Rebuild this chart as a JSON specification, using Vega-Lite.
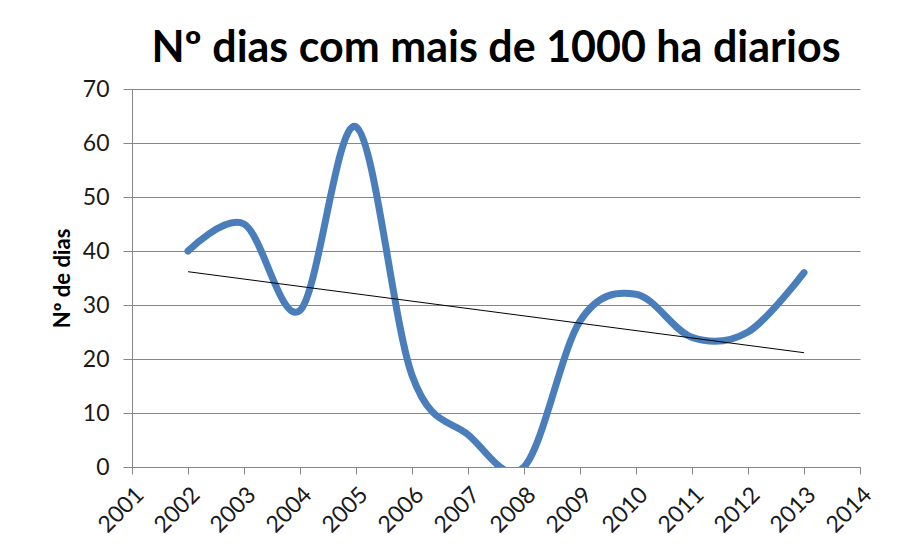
{
  "$schema": "https://vega.github.io/schema/vega-lite/v6.json",
  "width": 728,
  "height": 378,
  "autosize": "none",
  "padding": {"left": 132, "top": 89, "right": 64, "bottom": 84},
  "background": "white",
  "title": {
    "text": "Nº dias com mais de 1000 ha diarios",
    "font": "Lato",
    "fontSize": 43,
    "fontWeight": "bold",
    "color": "#000000",
    "anchor": "middle",
    "offset": 7
  },
  "data": {
    "values": [
      {"year": 2002, "days": 40},
      {"year": 2003, "days": 45},
      {"year": 2004, "days": 29},
      {"year": 2005, "days": 63},
      {"year": 2006, "days": 17},
      {"year": 2007, "days": 6},
      {"year": 2008, "days": 0},
      {"year": 2009, "days": 27},
      {"year": 2010, "days": 32},
      {"year": 2011, "days": 24},
      {"year": 2012, "days": 25},
      {"year": 2013, "days": 36}
    ]
  },
  "encoding": {
    "x": {
      "field": "year",
      "type": "quantitative",
      "scale": {"domain": [2001, 2014], "nice": false, "zero": false},
      "axis": {
        "values": [2001, 2002, 2003, 2004, 2005, 2006, 2007, 2008, 2009, 2010, 2011, 2012, 2013, 2014],
        "format": "d",
        "labelAngle": -45,
        "grid": false,
        "title": null,
        "tickSize": 7,
        "labelPadding": 9
      }
    },
    "y": {
      "field": "days",
      "type": "quantitative",
      "scale": {"domain": [0, 70], "nice": false},
      "axis": {
        "values": [0, 10, 20, 30, 40, 50, 60, 70],
        "grid": true,
        "title": "Nº de dias",
        "titleFontWeight": "bold",
        "titleFontSize": 22,
        "titleFont": "Lato",
        "titleColor": "#000000",
        "titlePadding": 8,
        "tickSize": 9,
        "labelPadding": 14
      }
    }
  },
  "layer": [
    {
      "mark": {"type": "line", "interpolate": "cardinal", "strokeWidth": 7, "color": "#4A7EBB", "strokeCap": "round", "strokeJoin": "round", "clip": true}
    },
    {
      "transform": [{"regression": "days", "on": "year"}],
      "mark": {"type": "line", "color": "#000000", "strokeWidth": 1}
    }
  ],
  "config": {
    "view": {"stroke": null},
    "axis": {
      "labelFont": "Lato",
      "labelFontSize": 23,
      "labelColor": "#1a1a1a",
      "domainColor": "#868686",
      "tickColor": "#868686",
      "gridColor": "#868686",
      "domainWidth": 1,
      "tickWidth": 1,
      "gridWidth": 1
    }
  }
}
